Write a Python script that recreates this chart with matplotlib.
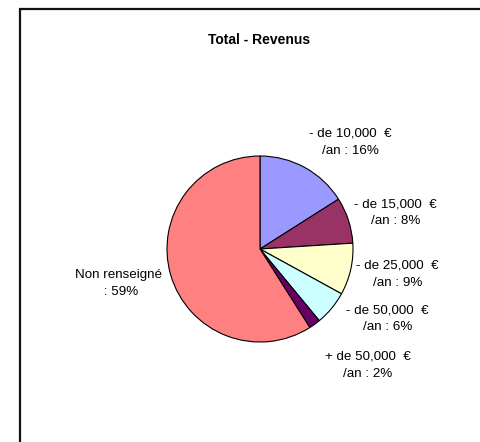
import matplotlib.pyplot as plt
from matplotlib.patches import Rectangle

# data
categories = ['- de 10,000  €\n/an', '- de 15,000  €\n/an', '- de 25,000  €\n/an',
              '- de 50,000  €\n/an', '+ de 50,000  €\n/an', 'Non renseigné\n']
shares = [16, 8, 9, 6, 2, 59]
colors = ['#9999FF', '#993366', '#FFFFCC', '#CCFFFF', '#660066', '#FF8080']

# label centres relative to pie centre, in radius units
label_offsets = [(0.97, 1.15), (1.46, 0.39), (1.48, -0.27),
                 (1.37, -0.75), (1.16, -1.25), (-1.52, -0.37)]

plt.rcParams['font.family'] = ['Liberation Sans', 'DejaVu Sans']

fig = plt.figure(figsize=(4.8, 4.42), dpi=100)
ax = fig.add_axes([0, 0, 1, 1])

cx, cy, r = 260, 442 - 249, 93
wedges, _ = ax.pie(shares, colors=colors, startangle=90, counterclock=False,
                   radius=r, center=(cx, cy),
                   wedgeprops=dict(edgecolor='black', linewidth=0.8))

for lab, val, (dx, dy) in zip(categories, shares, label_offsets):
    ax.text(cx + dx * r, cy + dy * r, lab + ' : ' + str(val) + '%',
            ha='center', va='center', fontsize=9.6, linespacing=1.6)

ax.text(259, 442 - 40, 'Total - Revenus', ha='center', va='center',
        fontsize=10, fontweight='bold')

# chart frame (only top and left edges visible)
ax.add_patch(Rectangle((20, -20), 500, 442 - 9 + 20, fill=False,
                       edgecolor='#111111', linewidth=1.6, clip_on=False))

ax.set_xlim(0, 480)
ax.set_ylim(0, 442)
ax.set_aspect('auto')
ax.axis('off')

fig.savefig('out.png', dpi=100)
